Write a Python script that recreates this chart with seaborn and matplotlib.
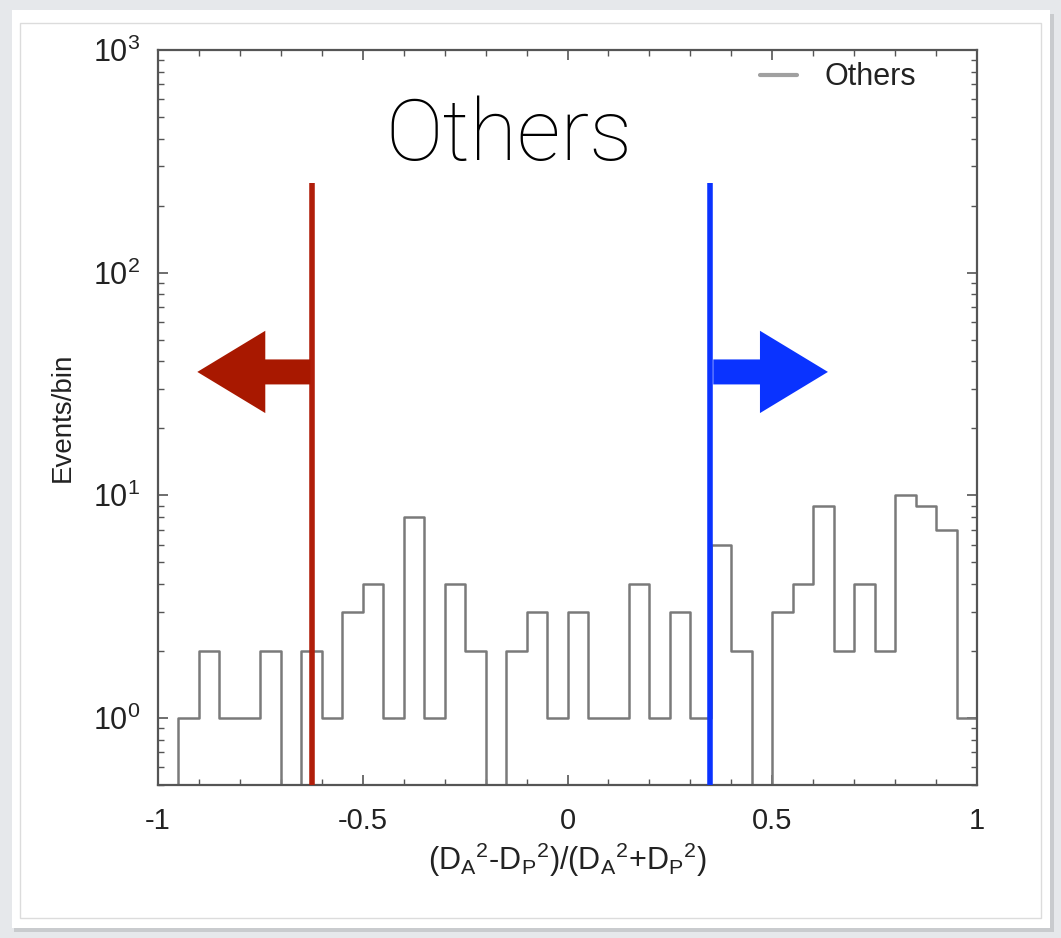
import numpy as np
import pandas as pd
import matplotlib
matplotlib.use("Agg")
import matplotlib.pyplot as plt
from matplotlib.patches import Rectangle, FancyArrow
from matplotlib.ticker import MultipleLocator, LogLocator, NullFormatter
import seaborn as sns

# histogram: 40 bins of width 0.05 from -1 to 1
bin_edges = [round(-1.0 + 0.05 * i, 3) for i in range(41)]
counts = [0, 1, 2, 1, 1, 2, 0, 2, 1, 3,
          4, 1, 8, 1, 4, 2, 0, 2, 3, 1,
          3, 1, 1, 4, 1, 3, 1, 6, 2, 0,
          3, 4, 9, 2, 4, 2, 10, 9, 7, 1]
bin_centers = [(a + b) / 2 for a, b in zip(bin_edges[:-1], bin_edges[1:])]

cut_left = -0.624
cut_right = 0.348
cut_top = 253

df = pd.DataFrame({"x": bin_centers, "n": counts})

sns.set_style("ticks")
plt.rcParams["font.family"] = ["Liberation Sans", "DejaVu Sans"]
plt.rcParams["mathtext.fontset"] = "custom"
plt.rcParams["mathtext.rm"] = "Liberation Sans"
plt.rcParams["mathtext.default"] = "regular"

fig = plt.figure(figsize=(10.61, 9.38), dpi=100, facecolor="#e6e8eb")
# white slide panel with a faint shadow
fig.patches.append(Rectangle((14 / 1061, 6 / 938), 1040 / 1061, 918 / 938,
                             transform=fig.transFigure, facecolor="#c9cbce",
                             edgecolor="none", zorder=-3))
fig.patches.append(Rectangle((12 / 1061, 10 / 938), 1038 / 1061, 918 / 938,
                             transform=fig.transFigure, facecolor="white",
                             edgecolor="none", zorder=-2))
fig.patches.append(Rectangle((20 / 1061, 20 / 938), 1021 / 1061, 895 / 938,
                             transform=fig.transFigure, facecolor="none",
                             edgecolor="#dcdcdc", lw=1, zorder=-1))

ax = fig.add_axes([158 / 1061, 153 / 938, 819 / 1061, 735 / 938])
ax.set_facecolor("white")

sns.histplot(data=df, x="x", weights="n", bins=bin_edges, element="step",
             fill=False, color="#7a7a7a", linewidth=1.8, label="Others", ax=ax)

ax.set_yscale("log", nonpositive="clip")
ax.set_xlim(-1, 1)
ax.set_ylim(0.5, 1000)

ax.vlines(cut_left, 0.5, cut_top, color="#b01e0a", lw=4, zorder=5)
ax.vlines(cut_right, 0.5, cut_top, color="#0a33ff", lw=4, zorder=5)

ax.add_patch(FancyArrow(0.186, 0.562, -0.138, 0, width=0.034, head_width=0.112,
                        head_length=0.083, length_includes_head=True,
                        transform=ax.transAxes, color="#a81800", lw=0, zorder=6))
ax.add_patch(FancyArrow(0.678, 0.562, 0.140, 0, width=0.034, head_width=0.112,
                        head_length=0.083, length_includes_head=True,
                        transform=ax.transAxes, color="#0a33ff", lw=0, zorder=6))

ax.text(0.429, 0.882, "Others", transform=ax.transAxes, ha="center", va="center",
        fontsize=62, fontweight="light", family=["Roboto", "Lato", "DejaVu Sans"],
        color="black")

ax.set_xticks([-1, -0.5, 0, 0.5, 1])
ax.set_xticklabels(["-1", "-0.5", "0", "0.5", "1"])
ax.xaxis.set_minor_locator(MultipleLocator(0.1))
ax.set_yticks([1, 10, 100, 1000])
ax.set_yticklabels(["$10^0$", "$10^1$", "$10^2$", "$10^3$"])
ax.yaxis.set_minor_locator(LogLocator(base=10, subs=np.arange(2, 10)))
ax.yaxis.set_minor_formatter(NullFormatter())

ax.tick_params(which="both", direction="in", top=True, right=True,
               colors="#555555", labelcolor="#222222")
ax.tick_params(axis="x", which="major", labelsize=21, pad=16)
ax.tick_params(axis="y", which="major", labelsize=22, pad=13)
ax.tick_params(which="major", length=7, width=1.2)
ax.tick_params(which="minor", length=4, width=1.0)
for s in ax.spines.values():
    s.set_color("#555555")
    s.set_linewidth(1.6)

ax.set_xlabel("(D$_A$$^2$-D$_P$$^2$)/(D$_A$$^2$+D$_P$$^2$)", fontsize=22,
              color="#222222", labelpad=4)
ax.set_ylabel("Events/bin", fontsize=20, color="#222222", labelpad=12)

leg = ax.legend(loc="upper right", bbox_to_anchor=(0.94, 1.0), frameon=False,
                fontsize=22, handlelength=1.2, handletextpad=0.9,
                borderaxespad=0.0, labelcolor="#222222")
for h in leg.get_lines():
    h.set_color("#a0a0a0")
    h.set_linewidth(3)

fig.savefig("out.png", dpi=100, facecolor=fig.get_facecolor())
